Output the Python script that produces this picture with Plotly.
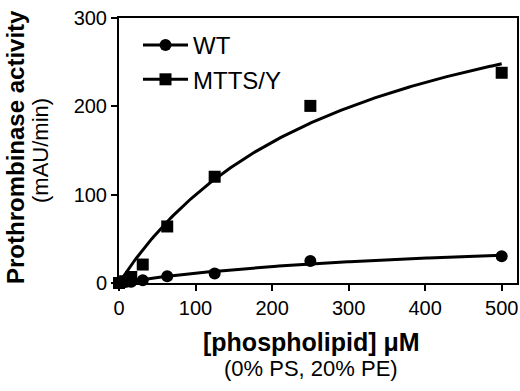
import numpy as np
import plotly.graph_objects as go

# Data
conc = [0, 8, 16, 31, 63, 125, 250, 500]
wt = [0, 1, 1.5, 3, 7.6, 10.7, 25, 30.3]
mtts = [0, 2, 6.8, 20.9, 64, 120.3, 200.5, 238]
x_ticks = [0, 100, 200, 300, 400, 500]
y_ticks = [0, 100, 200, 300]


def mm_fit(x, y):
    """Least-squares Michaelis-Menten fit (grid over Km, closed-form Vmax)."""
    x = np.asarray(x, float)
    y = np.asarray(y, float)
    best = None
    for km in np.linspace(1, 3000, 6000):
        f = x / (km + x)
        vmax = (f @ y) / (f @ f)
        err = np.sum((y - vmax * f) ** 2)
        if best is None or err < best[0]:
            best = (err, vmax, km)
    return best[1], best[2]


xf = np.linspace(0, 500, 200)
fig = go.Figure()
FONT = "Arial, Liberation Sans, sans-serif"

for name, ys, sym in [("WT", wt, "circle"), ("MTTS/Y", mtts, "square")]:
    vmax, km = mm_fit(conc, ys)
    yf = vmax * xf / (km + xf)
    fig.add_trace(go.Scatter(x=xf, y=yf, mode="lines", line=dict(color="black", width=3),
                             showlegend=False, hoverinfo="skip", cliponaxis=False))
    fig.add_trace(go.Scatter(x=conc, y=ys, mode="markers", name=name,
                             marker=dict(symbol=sym, size=12, color="black"),
                             cliponaxis=False, showlegend=False))
    # legend proxy
    fig.add_trace(go.Scatter(x=[None], y=[None], mode="lines+markers", name=name,
                             line=dict(color="black", width=3),
                             marker=dict(symbol=sym, size=12, color="black")))

axis_common = dict(showline=True, linecolor="black", linewidth=2, mirror=True,
                   ticks="outside", ticklen=6, tickwidth=2, tickcolor="black",
                   showgrid=False, zeroline=False, automargin=False,
                   tickfont=dict(family=FONT, size=20, color="black"))

W, H = 520, 391
L, R, T, B = 119, 3, 18, 108
pw, ph = W - L - R, H - T - B


def px(x, y):
    """window pixel (from top-left) -> paper coords"""
    return (x - L) / pw, 1 - (y - T) / ph


annotations = []
for text, x, y, ang, size in [
    ("<b>[phospholipid] μM</b>", 311, 342, 0, 25),
    ("(0% PS, 20% PE)", 311, 368, 0, 22),
    ("<b>Prothrombinase activity</b>", 15, 147, -90, 24),
    ("(mAU/min)", 40, 151, -90, 22),
]:
    ax, ay = px(x, y)
    annotations.append(dict(text=text, x=ax, y=ay, xref="paper", yref="paper",
                            xanchor="center", yanchor="middle", textangle=ang,
                            showarrow=False, font=dict(family=FONT, size=size, color="black")))

lx, ly = px(138, 23)

fig.update_layout(
    width=W, height=H,
    margin=dict(l=L, r=R, t=T, b=B),
    plot_bgcolor="white", paper_bgcolor="white",
    font=dict(family=FONT, color="black"),
    xaxis=dict(range=[0, 520], tickvals=x_ticks, **axis_common),
    yaxis=dict(range=[0, 300], tickvals=y_ticks, **axis_common),
    annotations=annotations,
    legend=dict(x=lx, y=ly, xanchor="left", yanchor="top",
                font=dict(family=FONT, size=24, color="black"),
                bgcolor="rgba(0,0,0,0)", tracegroupgap=0, itemwidth=45),
)

fig.write_html("out.html", config={"displayModeBar": False},
               post_script="document.body.style.margin='0';document.body.style.overflow='hidden';")
